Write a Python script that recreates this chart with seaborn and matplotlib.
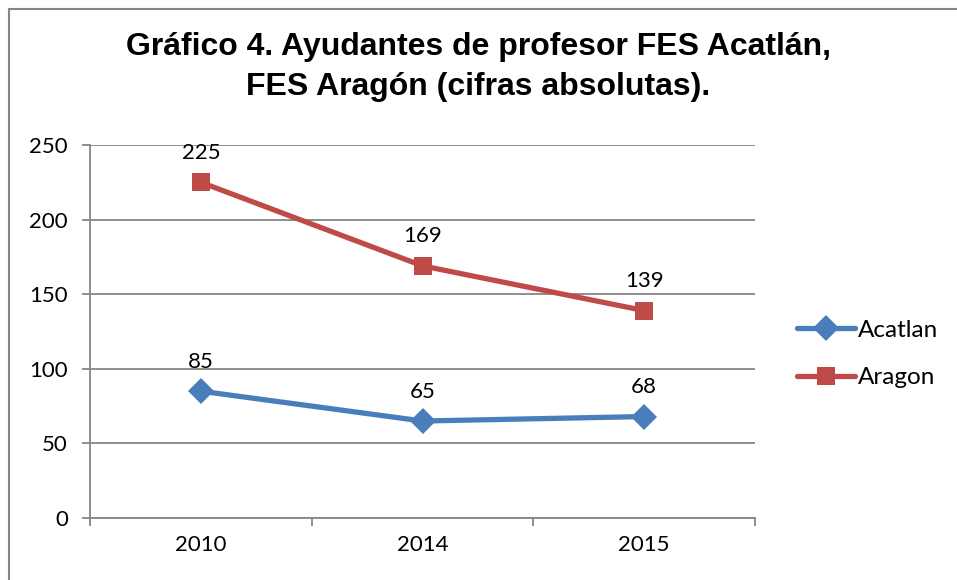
import matplotlib
matplotlib.use("Agg")
import matplotlib.pyplot as plt
from matplotlib.lines import Line2D
import seaborn as sns
from pandas import DataFrame

years = ["2010", "2014", "2015"]
acatlan = [85, 65, 68]
aragon = [225, 169, 139]
series_names = ["Acatlan", "Aragon"]

sns.set_theme(style="white")
plt.rcParams['font.family'] = ['Lato', 'DejaVu Sans']
plt.rcParams['text.color'] = 'black'
plt.rcParams['xtick.color'] = 'black'
plt.rcParams['ytick.color'] = 'black'

df = DataFrame({
    "year": years * 2,
    "value": acatlan + aragon,
    "serie": [series_names[0]] * len(years) + [series_names[1]] * len(years),
})
df["x"] = [years.index(y) for y in df["year"]]

fig = plt.figure(figsize=(9.57, 5.8), dpi=100)
ax = fig.add_axes([90 / 957, 62 / 580, 665 / 957, 373 / 580])

palette = {"Acatlan": "#4A7EBB", "Aragon": "#BE4B48"}
sns.lineplot(data=df, x="x", y="value", hue="serie", style="serie",
             markers={"Acatlan": "D", "Aragon": "s"}, dashes=False,
             palette=palette, linewidth=3.8, markersize=13,
             markeredgewidth=0, ax=ax, legend=True)

# data labels
for i, v in enumerate(acatlan):
    ax.text(i, v + 13, str(v), ha="center", va="bottom", fontsize=16)
for i, v in enumerate(aragon):
    ax.text(i, v + 13, str(v), ha="center", va="bottom", fontsize=16)

ax.set_xlim(-0.5, 2.5)
ax.set_ylim(0, 250)
ax.set_yticks(range(0, 251, 50))
ax.set_xticks(range(len(years)))
ax.set_xticklabels(years)
ax.set_xticks([-0.5, 0.5, 1.5, 2.5], minor=True)
ax.tick_params(axis="x", which="major", length=0, pad=12, labelsize=16)
ax.tick_params(axis="x", which="minor", length=6, color="#868686", width=1.3, direction="out", bottom=True)
ax.tick_params(axis="y", length=6, color="#868686", width=1.3, direction="out", left=True, labelsize=16, pad=10)
ax.set_xlabel("")
ax.set_ylabel("")
ax.grid(axis="y", color="#868686", linewidth=1.3)
ax.set_axisbelow(True)
for side in ["top", "right"]:
    ax.spines[side].set_visible(False)
for side in ["left", "bottom"]:
    ax.spines[side].set_color("#868686")
    ax.spines[side].set_linewidth(1.3)

leg = ax.legend(loc="center left", bbox_to_anchor=(1.03, 0.44), frameon=False,
                fontsize=17.5, handlelength=2.4, handletextpad=0.1, labelspacing=1.1)
for h in leg.legend_handles:
    h.set_markersize(13)

fig.text(0.5, 0.944, "Gráfico 4. Ayudantes de profesor FES Acatlán,\nFES Aragón (cifras absolutas).",
         ha="center", va="top", fontsize=23, fontweight="bold",
         family=["Liberation Sans", "DejaVu Sans"], linespacing=1.42)

# outer chart frame (only top and left visible)
fig.add_artist(Line2D([8.5 / 957, 8.5 / 957], [0, 1 - 8.5 / 580], transform=fig.transFigure,
                      color="#868686", linewidth=1.5))
fig.add_artist(Line2D([8.5 / 957, 1], [1 - 8.5 / 580, 1 - 8.5 / 580], transform=fig.transFigure,
                      color="#868686", linewidth=1.5))

fig.savefig("out.png", dpi=100)
